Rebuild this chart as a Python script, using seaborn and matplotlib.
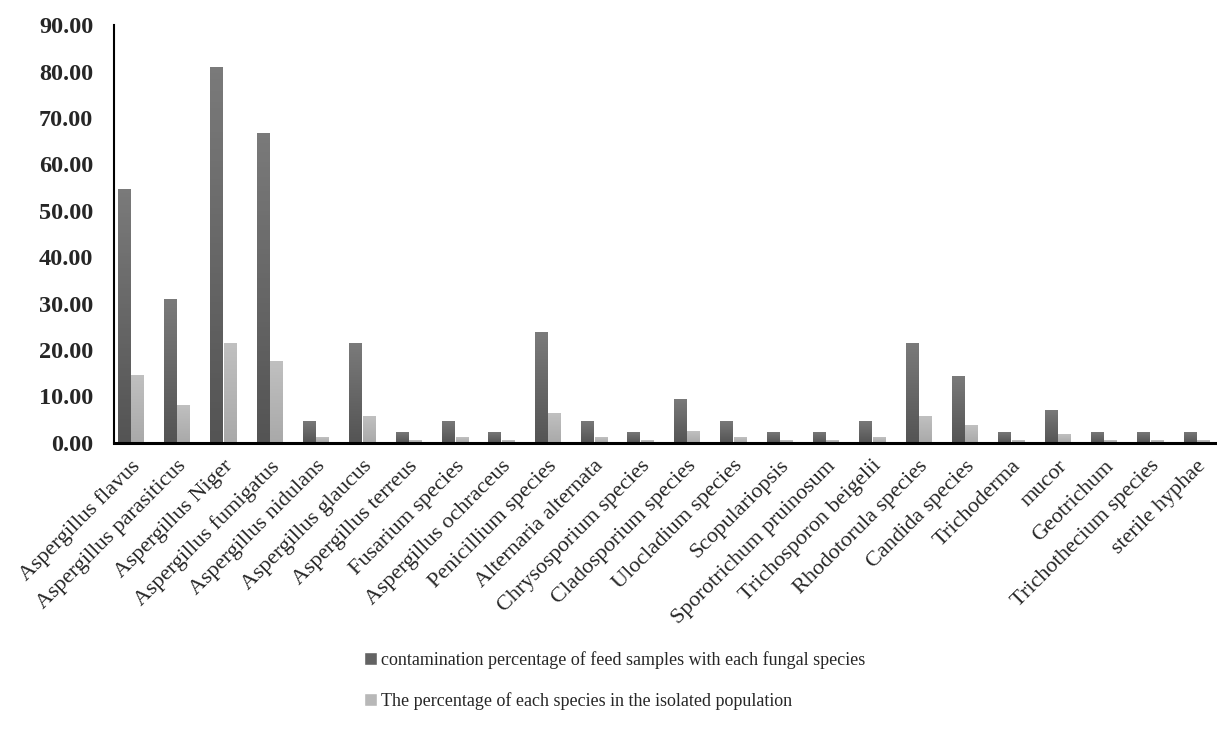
import numpy as np
import pandas as pd
import matplotlib
matplotlib.use("Agg")
import matplotlib.pyplot as plt
import seaborn as sns
from matplotlib.patches import Patch

# species in plot order
species = [
    "Aspergillus flavus", "Aspergillus parasiticus", "Aspergillus Niger",
    "Aspergillus fumigatus", "Aspergillus nidulans", "Aspergillus glaucus",
    "Aspergillus terreus", "Fusarium species", "Aspergillus ochraceus",
    "Penicillium species", "Alternaria alternata", "Chrysosporium species",
    "Cladosporium species", "Ulocladium species", "Scopulariopsis",
    "Sporotrichum pruinosum", "Trichosporon beigelii", "Rhodotorula species",
    "Candida species", "Trichoderma", "mucor", "Geotrichum",
    "Trichothecium species", "sterile hyphae",
]

# contamination percentage of feed samples (dark bars)
contamination = [54.76, 30.95, 80.95, 66.67, 4.76, 21.43, 2.38, 4.76, 2.38,
                 23.81, 4.76, 2.38, 9.52, 4.76, 2.38, 2.38, 4.76, 21.43,
                 14.29, 2.38, 7.14, 2.38, 2.38, 2.38]

# percentage of each species in the isolated population (light bars)
population = [14.56, 8.23, 21.52, 17.72, 1.27, 5.70, 0.63, 1.27, 0.63,
              6.33, 1.27, 0.63, 2.53, 1.27, 0.63, 0.63, 1.27, 5.70,
              3.80, 0.63, 1.90, 0.63, 0.63, 0.63]

series_names = [
    "contamination percentage of feed samples with each fungal species",
    "The percentage of each species in the isolated population",
]

df = pd.DataFrame({
    "species": species * 2,
    "value": contamination + population,
    "series": [series_names[0]] * len(species) + [series_names[1]] * len(species),
})

sns.set_theme(style="white")
plt.rcParams["font.family"] = ["Liberation Serif", "DejaVu Serif"]

fig = plt.figure(figsize=(12.17, 7.44), dpi=100)
ax = fig.add_axes([0.0937, 0.405, 0.9063, 0.561])

palette = ["#636363", "#b8b8b8"]
sns.barplot(data=df, x="species", y="value", hue="series", palette=palette,
            width=0.58, gap=0.08, ax=ax, legend=False, saturation=1)

# vertical gradient fill on each bar
grads = [("#7a7a7a", "#545454"), ("#c0c0c0", "#a9a9a9")]
n = len(species)
for i, bar in enumerate(ax.patches[:2 * n]):
    top, bot = grads[0] if i < n else grads[1]
    cmap = matplotlib.colors.LinearSegmentedColormap.from_list("g", [bot, top])
    x0, y0 = bar.get_x(), bar.get_y()
    w, h = bar.get_width(), bar.get_height()
    img = ax.imshow(np.linspace(0, 1, 64).reshape(-1, 1), cmap=cmap,
                    extent=[x0, x0 + w, y0, y0 + h], origin="lower",
                    aspect="auto", zorder=bar.get_zorder() + 0.1)
    img.set_clip_path(bar)

ax.set_xlim(-0.356, n - 0.56)
ax.set_ylim(0, 90)
ax.set_yticks(np.arange(0, 91, 10))
ax.set_yticklabels([f"{v:.2f}" for v in np.arange(0, 91, 10)],
                   fontsize=17.5, fontweight="bold")
ax.set_xlabel("")
ax.set_ylabel("")
ax.set_xticks(range(n))
ax.set_xticklabels(species, rotation=45, ha="right", rotation_mode="anchor",
                   fontsize=16)
ax.tick_params(axis="x", length=0, pad=10)
ax.tick_params(axis="y", length=0, pad=15)

sns.despine(ax=ax)
ax.spines["left"].set_color("black")
ax.spines["left"].set_linewidth(1.5)
ax.spines["bottom"].set_color("black")
ax.spines["bottom"].set_linewidth(2.2)

handles = [Patch(facecolor=palette[0]), Patch(facecolor=palette[1])]
fig.legend(handles, series_names, loc="upper left",
           bbox_to_anchor=(0.293, 0.135), frameon=False,
           fontsize=13, handlelength=0.75, handleheight=0.75,
           handletextpad=0.2, labelspacing=1.3, borderaxespad=0)

fig.savefig("out.png", dpi=100)
